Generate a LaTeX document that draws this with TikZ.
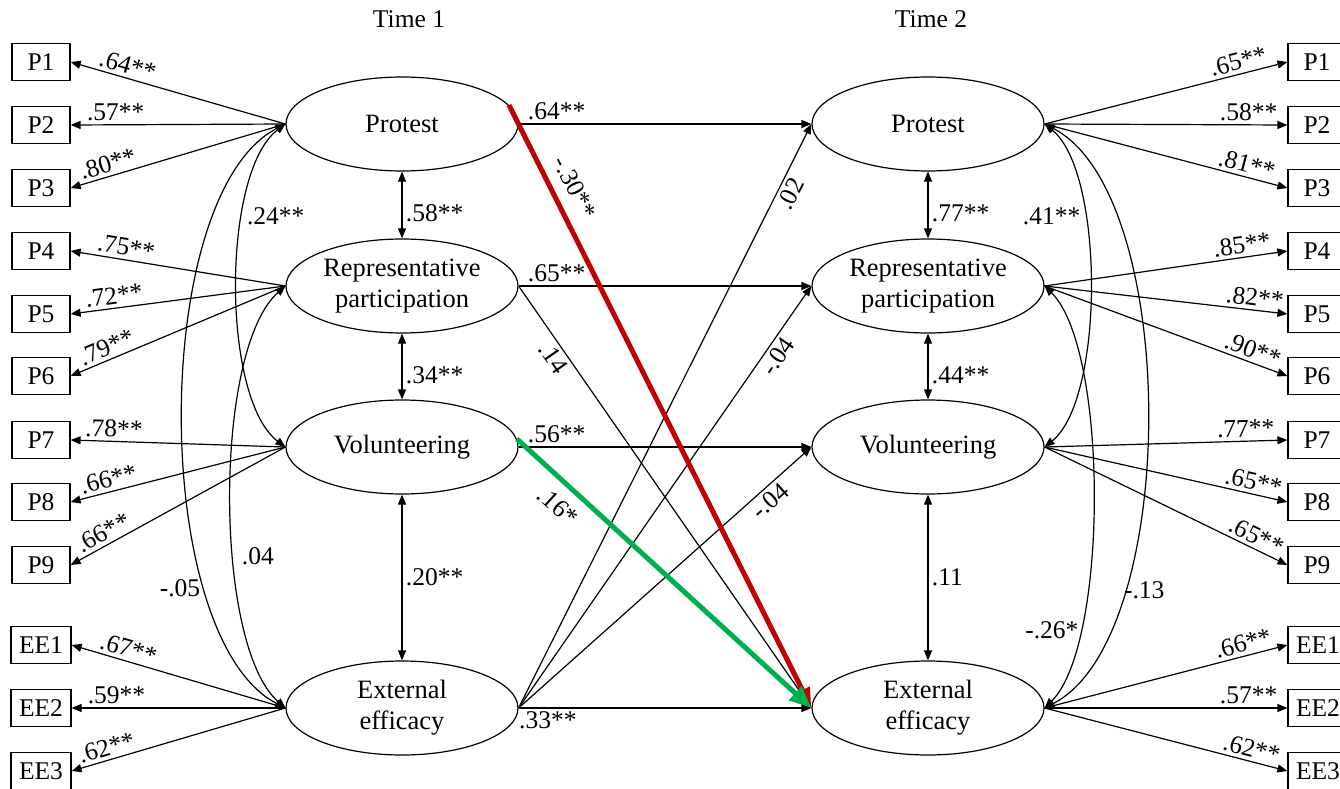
\documentclass[tikz,border=0pt]{standalone}
\usepackage{fontspec}
\setmainfont{Liberation Serif}
\usetikzlibrary{arrows.meta,shapes.geometric}
\definecolor{redpath}{RGB}{192,0,0}
\definecolor{greenpath}{RGB}{0,176,80}
\begin{document}
\begin{tikzpicture}[x=1pt,y=-1pt,
  every node/.style={font=\fontsize{25.5}{31}\selectfont},
  ind/.style={draw, line width=1.2pt, rectangle, minimum width=58pt, minimum height=37pt, inner sep=0pt},
  lat/.style={draw, line width=1.2pt, ellipse, minimum width=232pt, minimum height=94pt, inner sep=0pt, align=center},
  latxt/.style={font=\fontsize{26.5}{31}\selectfont},
  conn/.style={line width=1.2pt, -{Triangle[length=10pt,width=8pt]}},
  rconn/.style={line width=1.2pt, {Triangle[length=10pt,width=8pt]}-},
  dbl/.style={line width=1.2pt, {Triangle[length=10pt,width=8pt]}-{Triangle[length=10pt,width=8pt]}},
  redp/.style={draw=redpath, line width=5pt, -{Triangle[length=20pt,width=15pt]}},
  greenp/.style={draw=greenpath, line width=5pt, -{Triangle[length=22pt,width=18pt]}},
]
\useasboundingbox (0,0) rectangle (1340,789);

% titles
\node (t1) at (409,19) {Time 1};
\node (t2) at (931,19) {Time 2};

% latent variables
\node[lat,latxt] (prot1) at (402,124) {Protest};
\node[lat,latxt] (rep1)  at (402,286) {Representative\\participation};
\node[lat,latxt] (vol1)  at (402,447) {Volunteering};
\node[lat,latxt] (ee1)   at (402,708) {External\\efficacy};
\node[lat,latxt] (prot2) at (928,124) {Protest};
\node[lat,latxt] (rep2)  at (928,286) {Representative\\participation};
\node[lat,latxt] (vol2)  at (928,447) {Volunteering};
\node[lat,latxt] (ee2)   at (928,708) {External\\efficacy};

% left indicators
\node[ind] (lp1) at (41,62)  {P1};
\node[ind] (lp2) at (41,125) {P2};
\node[ind] (lp3) at (41,188) {P3};
\node[ind] (lp4) at (41,251) {P4};
\node[ind] (lp5) at (41,314) {P5};
\node[ind] (lp6) at (41,376) {P6};
\node[ind] (lp7) at (41,440) {P7};
\node[ind] (lp8) at (41,502) {P8};
\node[ind] (lp9) at (41,565) {P9};
\node[ind,minimum width=60pt] (le1) at (41,645) {EE1};
\node[ind,minimum width=60pt] (le2) at (41,708) {EE2};
\node[ind,minimum width=60pt] (le3) at (41,771) {EE3};

% right indicators
\node[ind] (rp1) at (1317,62)  {P1};
\node[ind] (rp2) at (1317,125) {P2};
\node[ind] (rp3) at (1317,188) {P3};
\node[ind] (rp4) at (1317,251) {P4};
\node[ind] (rp5) at (1317,314) {P5};
\node[ind] (rp6) at (1317,376) {P6};
\node[ind] (rp7) at (1317,440) {P7};
\node[ind] (rp8) at (1317,502) {P8};
\node[ind] (rp9) at (1317,565) {P9};
\node[ind,minimum width=60pt] (re1) at (1318,645) {EE1};
\node[ind,minimum width=60pt] (re2) at (1318,708) {EE2};
\node[ind,minimum width=60pt] (re3) at (1318,771) {EE3};

% left loadings
\draw[rconn] (lp1.east) -- node[pos=0.25, sloped, above] {.64**} (prot1.west);
\draw[rconn] (lp2.east) -- node[pos=0.21, sloped, above] {.57**} (prot1.west);
\draw[rconn] (lp3.east) -- node[pos=0.19, sloped, above] {.80**} (prot1.west);
\draw[rconn] (lp4.east) -- node[pos=0.25, sloped, above] {.75**} (rep1.west);
\draw[rconn] (lp5.east) -- node[pos=0.21, sloped, above] {.72**} (rep1.west);
\draw[rconn] (lp6.east) -- node[pos=0.19, sloped, above] {.79**} (rep1.west);
\draw[rconn] (lp7.east) -- node[pos=0.20, sloped, above] {.78**} (vol1.west);
\draw[rconn] (lp8.east) -- node[pos=0.19, sloped, above] {.66**} (vol1.west);
\draw[rconn] (lp9.east) -- node[pos=0.18, sloped, above] {.66**} (vol1.west);
\draw[rconn] (le1.east) -- node[pos=0.25, sloped, above] {.67**} (ee1.west);
\draw[rconn] (le2.east) -- node[pos=0.21, sloped, above] {.59**} (ee1.west);
\draw[rconn] (le3.east) -- node[pos=0.18, sloped, above] {.62**} (ee1.west);

% right loadings
\draw[conn] (prot2.east) -- node[pos=0.81, sloped, above] {.65**} (rp1.west);
\draw[conn] (prot2.east) -- node[pos=0.84, sloped, above] {.58**} (rp2.west);
\draw[conn] (prot2.east) -- node[pos=0.82, sloped, above] {.81**} (rp3.west);
\draw[conn] (rep2.east) -- node[pos=0.82, sloped, above] {.85**} (rp4.west);
\draw[conn] (rep2.east) -- node[pos=0.86, sloped, above] {.82**} (rp5.west);
\draw[conn] (rep2.east) -- node[pos=0.84, sloped, above] {.90**} (rp6.west);
\draw[conn] (vol2.east) -- node[pos=0.83, sloped, above] {.77**} (rp7.west);
\draw[conn] (vol2.east) -- node[pos=0.85, sloped, above] {.65**} (rp8.west);
\draw[conn] (vol2.east) -- node[pos=0.85, sloped, above] {.65**} (rp9.west);
\draw[conn] (ee2.east) -- node[pos=0.83, sloped, above] {.66**} (re1.west);
\draw[conn] (ee2.east) -- node[pos=0.84, sloped, above] {.57**} (re2.west);
\draw[conn] (ee2.east) -- node[pos=0.84, sloped, above] {.62**} (re3.west);

% within-time correlations (vertical)
\draw[dbl] (prot1.south) -- node[pos=0.63, right] {.58**} (rep1.north);
\draw[dbl] (rep1.south) -- node[pos=0.64, right] {.34**} (vol1.north);
\draw[dbl] (vol1.south) -- node[pos=0.50, right] {.20**} (ee1.north);
\draw[dbl] (prot2.south) -- node[pos=0.63, right] {.77**} (rep2.north);
\draw[dbl] (rep2.south) -- node[pos=0.64, right] {.44**} (vol2.north);
\draw[dbl] (vol2.south) -- node[pos=0.50, right] {.11} (ee2.north);

% curved correlations, time 1
\draw[dbl] (prot1.west) .. controls +(-64,48) and +(-64,-48) .. node[pos=0.327, right] {.24**} (vol1.west);
\draw[dbl] (rep1.west) .. controls +(-72,63) and +(-72,-63) .. node[pos=0.611, right, xshift=4pt] {.04} (ee1.west);
\draw[dbl] (prot1.west) .. controls +(-136,70) and +(-136,-70) .. node[pos=0.736, left, xshift=-2pt] {-.05} (ee1.west);

% curved correlations, time 2
\draw[dbl] (prot2.east) .. controls +(60,48) and +(60,-48) .. node[pos=0.327, left] {.41**} (vol2.east);
\draw[dbl] (rep2.east) .. controls +(64,63) and +(64,-63) .. node[pos=0.763, left, xshift=3pt] {-.26*} (ee2.east);
\draw[dbl] (prot2.east) .. controls +(136,70) and +(136,-70) .. node[pos=0.74, right, xshift=-3pt] {-.13} (ee2.east);

% cross-time paths
\draw[conn] (prot1.east) -- node[pos=0.13, above] {.64**} (prot2.west);
\draw[conn] (rep1.east) -- node[pos=0.13, above] {.65**} (rep2.west);
\draw[conn] (vol1.east) -- node[pos=0.13, above] {.56**} (vol2.west);
\draw[conn] (ee1.east) -- node[pos=0.10, below] {.33**} (ee2.west);
\draw[conn] (rep1.east) -- node[pos=0.154, sloped, below] {.14} (ee2.west);
\draw[conn] (ee1.east) -- node[pos=0.89, sloped, below] {.02} (prot2.west);
\draw[conn] (ee1.east) -- node[pos=0.85, sloped, below] {-.04} (rep2.west);
\draw[conn] (ee1.east) -- node[pos=0.83, sloped, below] {-.04} (vol2.west);
\draw[redp] (prot1.10) -- node[pos=0.153, sloped, above, inner sep=11pt] {-.30**} (ee2.west);
\draw[greenp] (vol1.4) -- node[pos=0.19, sloped, below, inner sep=11pt] {.16*} (ee2.west);
\end{tikzpicture}
\end{document}
